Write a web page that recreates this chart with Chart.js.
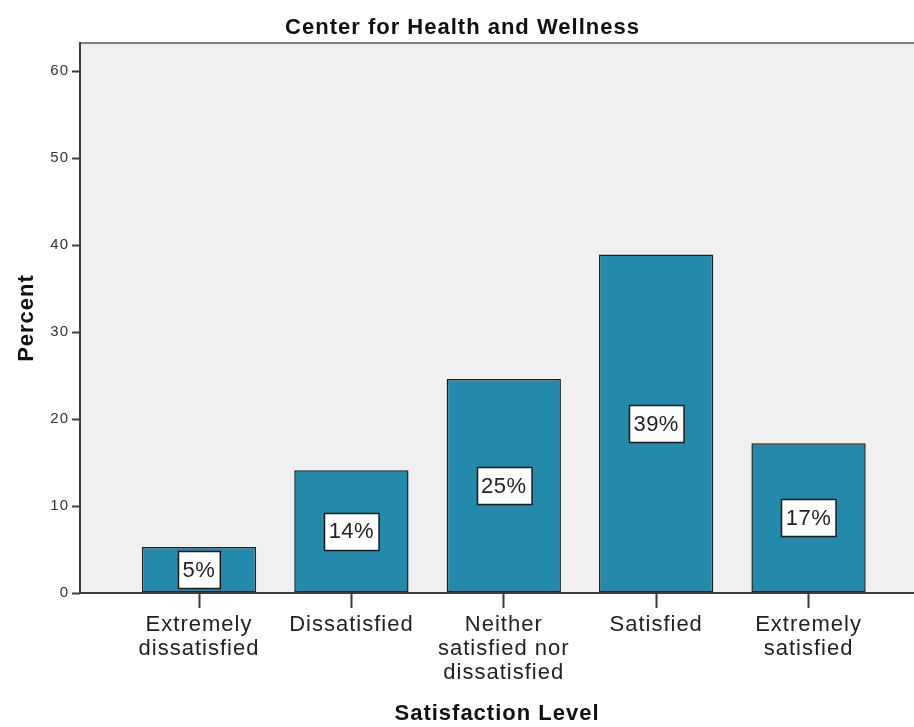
<!DOCTYPE html>
<html>
<head>
<meta charset="utf-8">
<script src="https://cdn.jsdelivr.net/npm/chart.js@4/dist/chart.umd.min.js"></script>
<style>
html,body{margin:0;padding:0;background:#fff;}
#wrap{width:914px;height:727px;position:relative;}
</style>
</head>
<body>
<div id="wrap"><canvas id="c" width="914" height="727"></canvas></div>
<script>
const categories = [
  ['Extremely', 'dissatisfied'],
  ['Dissatisfied'],
  ['Neither', 'satisfied nor', 'dissatisfied'],
  ['Satisfied'],
  ['Extremely', 'satisfied']
];
const percentValues = [5.3, 14.1, 24.6, 38.9, 17.2];
const barLabels = ['5%', '14%', '25%', '39%', '17%'];
const yTickValues = [0, 10, 20, 30, 40, 50, 60];

const FONT = '"Liberation Sans", Arial, sans-serif';
const SPACING = '1px';

const spacingPlugin = {
  id: 'spacing',
  beforeInit(chart) { chart.ctx.letterSpacing = SPACING; },
  beforeLayout(chart) { chart.ctx.letterSpacing = SPACING; },
  beforeDraw(chart) { chart.ctx.letterSpacing = SPACING; }
};

const areaPlugin = {
  id: 'area',
  beforeDraw(chart) {
    const {ctx, chartArea: a} = chart;
    ctx.save();
    ctx.fillStyle = '#f0f0f0';
    ctx.fillRect(a.left, a.top, a.right - a.left, a.bottom - a.top);
    ctx.restore();
  },
  afterDraw(chart) {
    const {ctx, chartArea: a} = chart;
    ctx.save();
    ctx.strokeStyle = '#808080';
    ctx.lineWidth = 2;
    ctx.beginPath();
    ctx.moveTo(a.left, a.top);
    ctx.lineTo(a.right, a.top);
    ctx.stroke();
    ctx.strokeStyle = '#3c3c3c';
    ctx.beginPath();
    ctx.moveTo(a.left, a.top - 1);
    ctx.lineTo(a.left, a.bottom);
    ctx.lineTo(a.right, a.bottom);
    ctx.stroke();
    ctx.restore();
  }
};

const labelPlugin = {
  id: 'barLabels',
  afterDatasetsDraw(chart) {
    const {ctx} = chart;
    const meta = chart.getDatasetMeta(0);
    ctx.save();
    ctx.font = '22px ' + FONT;
    ctx.letterSpacing = '0.5px';
    ctx.textAlign = 'center';
    ctx.textBaseline = 'middle';
    meta.data.forEach((bar, i) => {
      const cy = (bar.y + bar.base) / 2;
      const txt = barLabels[i];
      const w = ctx.measureText(txt).width + 9;
      const h = 37;
      const x0 = Math.round(bar.x - w / 2) + 0.5;
      const y0 = Math.round(cy - h / 2) + 0.5;
      ctx.fillStyle = '#ffffff';
      ctx.fillRect(x0, y0, w, h);
      ctx.strokeStyle = '#1a1a1a';
      ctx.lineWidth = 1.5;
      ctx.strokeRect(x0, y0, w, h);
      ctx.fillStyle = '#222222';
      ctx.fillText(txt, bar.x, cy + 1);
    });
    ctx.restore();
  }
};

new Chart(document.getElementById('c'), {
  type: 'bar',
  data: {
    datasets: [{
      data: percentValues.map((v, i) => ({x: i, y: v})),
      backgroundColor: '#248aac',
      borderColor: '#1e1e1e',
      borderWidth: 1.5,
      borderSkipped: false,
      barPercentage: 0.75,
      categoryPercentage: 1
    }]
  },
  options: {
    responsive: false,
    animation: false,
    devicePixelRatio: 1,
    layout: {padding: {left: 11, right: 0, top: 0, bottom: 0}},
    plugins: {
      legend: {display: false},
      tooltip: {enabled: false},
      title: {
        display: true,
        text: 'Center for Health and Wellness',
        color: '#111',
        font: {family: FONT, size: 22, weight: 'bold'},
        padding: {top: 15, bottom: 1.6}
      }
    },
    scales: {
      x: {
        type: 'linear',
        offset: false,
        min: -0.781,
        max: 4.692,
        afterBuildTicks(scale) {
          scale.ticks = categories.map((c, i) => ({value: i}));
        },
        afterFit(scale) { scale.height = 134; },
        ticks: {
          autoSkip: false,
          maxRotation: 0,
          minRotation: 0,
          padding: 5,
          color: '#222',
          font: {family: FONT, size: 22, lineHeight: 1.09},
          callback: (v) => categories[v] || ''
        },
        grid: {
          display: true,
          offset: false,
          drawOnChartArea: false,
          drawTicks: true,
          tickLength: 15,
          tickWidth: 2,
          tickColor: '#3c3c3c'
        },
        border: {display: false},
        title: {
          display: true,
          text: 'Satisfaction Level',
          color: '#111',
          font: {family: FONT, size: 22, weight: 'bold'},
          padding: {top: 0, bottom: 0}
        }
      },
      y: {
        type: 'linear',
        min: 0,
        max: 63.22,
        afterBuildTicks(scale) {
          scale.ticks = yTickValues.map(v => ({value: v}));
        },
        afterFit(scale) { scale.width = 69; },
        ticks: {
          padding: 3,
          color: '#333',
          font: {family: FONT, size: 15}
        },
        grid: {
          display: true,
          drawOnChartArea: false,
          drawTicks: true,
          tickLength: 8,
          tickWidth: 2,
          tickColor: '#3c3c3c'
        },
        border: {display: false},
        title: {
          display: true,
          text: 'Percent',
          color: '#111',
          font: {family: FONT, size: 22, weight: 'bold'},
          padding: {top: 3, bottom: 0}
        }
      }
    }
  },
  plugins: [spacingPlugin, areaPlugin, labelPlugin]
});
</script>
</body>
</html>
